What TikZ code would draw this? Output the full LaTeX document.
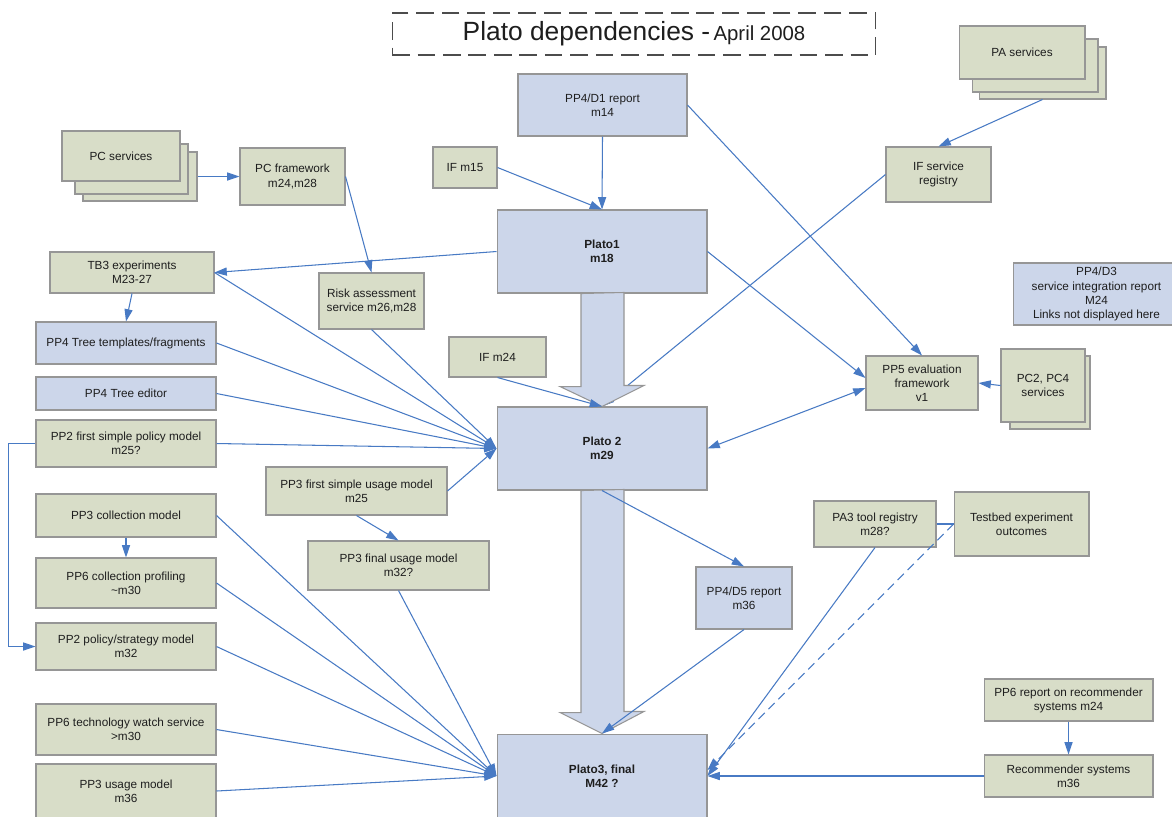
\documentclass[tikz,border=0pt]{standalone}
\usepackage{fontspec}
\setmainfont{Liberation Sans}
\usetikzlibrary{arrows.meta}
\definecolor{boxgreen}{RGB}{216,221,200}
\definecolor{boxblue}{RGB}{204,214,234}
\definecolor{boxline}{RGB}{150,150,150}
\definecolor{linkblue}{RGB}{72,122,196}
\definecolor{textgray}{RGB}{30,30,30}
\begin{document}
\begin{tikzpicture}[x=0.02cm, y=-0.02cm,
  box/.style = {shape=rectangle, draw=boxline, line width=0.6pt,
    align=center, inner sep=1pt, text=textgray,
    font=\fontsize{6.7}{8}\selectfont},
  greenbox/.style = {box, fill=boxgreen},
  bluebox/.style = {box, fill=boxblue},
  platobox/.style = {bluebox, minimum width=4.2cm,
    font=\fontsize{6.7}{8}\selectfont\bfseries},
  link/.style = {draw=linkblue, line width=0.6pt,
    -{Triangle[length=7pt,width=4.6pt]}},
  bigarrow/.style = {fill=boxblue, draw=boxline, line width=0.6pt}]
  \path[use as bounding box, fill=white] (0,0) rectangle (1172,816);
  \clip (0,0) rectangle (1172,816);

  \node[box, draw=black!70, dash pattern=on 10pt off 4.5pt,
    minimum width=9.68cm, minimum height=0.84cm] (title) at (634,34)
    {{\fontsize{15}{18}\selectfont Plato dependencies -}
     {\fontsize{11.6}{14}\selectfont April 2008}};

  % centre column
  \node[bluebox, minimum width=3.38cm, minimum height=1.24cm] (d1) at (602.5,105) {PP4/D1 report\\m14};
  \node[greenbox, minimum width=1.28cm, minimum height=0.82cm] (ifa) at (465,167.5) {IF m15};
  \node[platobox, minimum height=1.66cm] (plato1) at (602,251.5) {Plato1\\m18};
  \node[greenbox, minimum width=1.94cm, minimum height=0.8cm] (ifb) at (497.5,357) {IF m24};
  \node[platobox, minimum height=1.66cm] (plato2) at (602,448.5) {Plato 2\\m29};
  \node[bluebox, minimum width=1.92cm, minimum height=1.24cm] (d5) at (744,598) {PP4/D5 report\\m36};
  \node[platobox, minimum height=1.68cm] (plato3) at (602,776) {Plato3, final\\M42 ?};

  % left side
  \node[greenbox, minimum width=2.28cm, minimum height=0.98cm] (pcs3) at (140,176.5) {};
  \node[greenbox, minimum width=2.26cm, minimum height=1.0cm] (pcs2) at (131.5,169) {};
  \node[greenbox, minimum width=2.36cm, minimum height=1.0cm] (pcs) at (121,156) {PC services};
  \node[greenbox, minimum width=2.1cm, minimum height=1.14cm] (pcf) at (292.5,176.5) {PC framework\\m24,m28};
  \node[greenbox, minimum width=3.28cm, minimum height=0.82cm] (tb) at (132,272.5) {TB3 experiments\\M23-27};
  \node[greenbox, minimum width=2.1cm, minimum height=1.12cm] (risk) at (371.5,301) {Risk assessment\\service m26,m28};
  \node[bluebox, minimum width=3.6cm, minimum height=0.84cm] (tmpl) at (126,343) {PP4 Tree templates/fragments};
  \node[bluebox, minimum width=3.6cm, minimum height=0.66cm] (ted) at (126,393.5) {PP4 Tree editor};
  \node[greenbox, minimum width=3.6cm, minimum height=0.94cm] (pol1) at (126,443.5) {PP2 first simple policy model\\m25?};
  \node[greenbox, minimum width=3.6cm, minimum height=0.86cm] (coll) at (126,515.5) {PP3 collection model};
  \node[greenbox, minimum width=3.6cm, minimum height=1.0cm] (prof) at (126,583) {PP6 collection profiling\\\textasciitilde m30};
  \node[greenbox, minimum width=3.6cm, minimum height=0.94cm] (pol2) at (126,646.5) {PP2 policy/strategy model\\m32};
  \node[greenbox, minimum width=3.6cm, minimum height=1.02cm] (watch) at (126,729.5) {PP6 technology watch service\\>m30};
  \node[greenbox, minimum width=3.6cm, minimum height=1.08cm] (usage) at (126,791) {PP3 usage model\\m36};
  \node[greenbox, minimum width=3.62cm, minimum height=0.96cm] (us1) at (356.5,491) {PP3 first simple usage model\\m25};
  \node[greenbox, minimum width=3.62cm, minimum height=0.98cm] (us2) at (398.5,565.5) {PP3 final usage model\\m32?};

  % right side
  \node[greenbox, minimum width=2.54cm, minimum height=1.04cm] (pas3) at (1042.5,73) {};
  \node[greenbox, minimum width=2.52cm, minimum height=1.06cm] (pas2) at (1035,65.5) {};
  \node[greenbox, minimum width=2.52cm, minimum height=1.06cm] (pas) at (1022,52.5) {PA services};
  \node[greenbox, minimum width=2.1cm, minimum height=1.1cm] (reg) at (938.5,174.5) {IF service\\registry};
  \node[bluebox, minimum width=3.34cm, minimum height=1.24cm] (d3) at (1096.5,294) {PP4/D3\\service integration report\\M24\\Links not displayed here};
  \node[greenbox, minimum width=2.24cm, minimum height=1.08cm] (pp5) at (922,383) {PP5 evaluation\\framework\\v1};
  \node[greenbox, minimum width=1.6cm, minimum height=1.46cm] (pc24b) at (1050,392.5) {};
  \node[greenbox, minimum width=1.68cm, minimum height=1.46cm] (pc24) at (1043,385.5) {PC2, PC4\\services};
  \node[greenbox, minimum width=2.44cm, minimum height=0.92cm] (pa3) at (875,524) {PA3 tool registry\\m28?};
  \node[greenbox, minimum width=2.7cm, minimum height=1.28cm] (tbo) at (1021.5,524) {Testbed experiment\\outcomes};
  \node[greenbox, minimum width=3.38cm, minimum height=0.84cm] (rec6) at (1068.5,700) {PP6 report on recommender\\systems m24};
  \node[greenbox, minimum width=3.38cm, minimum height=0.84cm] (recs) at (1068.5,776) {Recommender systems\\m36};

  \draw[link] (reg.west) -- (plato2.north);

  \draw[bigarrow] (plato1.south) ++(-21,0) -- ++(0,93) -- ++(-21,0) -- (plato2.north)
    -- ++(42,-21) -- ++(-20,0) -- ++(0,-93) -- cycle;
  \draw[bigarrow] (plato2.south) ++(-21,0) -- ++(0,222) -- ++(-21,0) -- (plato3.north)
    -- ++(42,-22) -- ++(-20,0) -- ++(0,-222) -- cycle;

  \draw[link] (d1.south) -- (plato1.north);
  \draw[link] (ifa.east) -- (plato1.north);
  \draw[link] (pcs3.east) -- (pcf.west);
  \draw[link] (pcf.east) -- (risk.north);
  \draw[link] (plato1.west) -- (tb.east);
  \draw[link] (tb.south) -- (tmpl.north);
  \draw[link] (tb.east) -- (plato2.west);
  \draw[link] (risk.south) -- (plato2.west);
  \draw[link] (tmpl.east) -- (plato2.west);
  \draw[link] (ted.east) -- (plato2.west);
  \draw[link] (pol1.east) -- (plato2.west);
  \draw[link] (us1.east) -- (plato2.west);
  \draw[link] (us1.south) -- (us2.north);
  \draw[link] (pol1.west) -- ++(-27,0) |- (pol2.west);
  \draw[link] (coll.south) -- (prof.north);
  \draw[link] (ifb.south) -- (plato2.north);
  \draw[link] (pas3.south) -- (reg.north);
  \draw[link] (d1.east) -- (pp5.north);
  \draw[link] (plato1.east) -- ([yshift=0.1cm]pp5.west);
  \draw[link, {Triangle[length=7pt,width=4.6pt]}-{Triangle[length=7pt,width=4.6pt]}]
    (plato2.east) -- ([yshift=-0.1cm]pp5.west);
  \draw[link] (pc24.west) -- (pp5.east);
  \draw[link] (plato2.south) -- (d5.north);
  \draw[link] (d5.south) -- (plato3.north);
  \draw[link] (coll.east) -- (plato3.west);
  \draw[link] (prof.east) -- (plato3.west);
  \draw[link] (pol2.east) -- (plato3.west);
  \draw[link] (watch.east) -- (plato3.west);
  \draw[link] (usage.east) -- (plato3.west);
  \draw[link] (us2.south) -- (plato3.west);
  \draw[link, -] (pa3.east) -- (tbo.west);
  \draw[link] (pa3.south) -- (plato3.east);
  \draw[link, dash pattern=on 5pt off 3pt] (tbo.west) -- ([yshift=0.12cm]plato3.east);
  \draw[link] (rec6.south) -- (recs.north);
  \draw[link] (recs.west) -- (plato3.east);
\end{tikzpicture}
\end{document}
